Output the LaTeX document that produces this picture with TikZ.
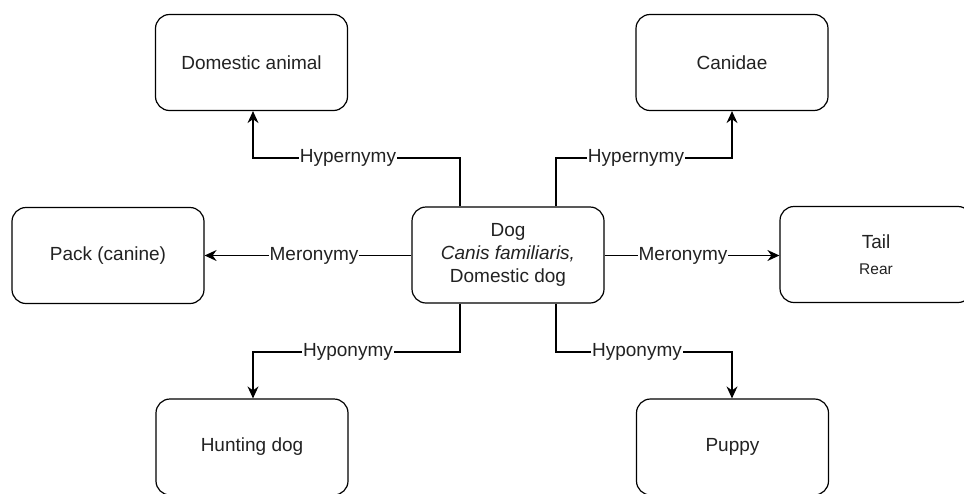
\documentclass[tikz,border=0pt]{standalone}
\usepackage{fontspec}
\setmainfont{Liberation Sans}
\usetikzlibrary{arrows.meta}
\definecolor{txt}{HTML}{222222}
\begin{document}
\begin{tikzpicture}[x=1pt,y=-1pt,
  box/.style={draw=black, line width=1.2pt, rounded corners=14pt, fill=white,
    minimum width=192pt, minimum height=96pt, inner sep=0pt, text=txt,
    font=\fontsize{19}{23}\selectfont, align=center},
  conn/.style={draw=black, line width=1.3pt, -{Stealth[length=12pt,width=11pt,inset=4pt]}},
  lbl/.style={fill=white, inner sep=1pt, text=txt, font=\fontsize{19}{23}\selectfont}]
\useasboundingbox (0,0) rectangle (964,493);
\clip (0,0) rectangle (964,493);
\fill[white] (0,0) rectangle (964,493);
\node[box] (dom) at (251.5,62.5) {Domestic animal};
\node[box] (can) at (732,62.5) {Canidae};
\node[box] (dog) at (508,255) {Dog\\\itshape Canis familiaris,\\Domestic dog};
\node[box] (pack) at (108,255.5) {Pack (canine)};
\node[box] (tail) at (876,254.5) {Tail\\[3pt]{\fontsize{15.5}{18}\selectfont Rear}};
\node[box] (hunt) at (252,447) {Hunting dog};
\node[box] (pup) at (732.5,447) {Puppy};
% connectors
\coordinate (a1) at (460,158); \coordinate (a2) at (253,158);
\draw[conn] (dog.north -| a1) -- (a1) -- (a2) -- (dom.south -| a2);
\coordinate (b1) at (556,158); \coordinate (b2) at (732,158);
\draw[conn] (dog.north -| b1) -- (b1) -- (b2) -- (can.south -| b2);
\coordinate (m) at (0,255.5);
\draw[conn] (dog.west |- m) -- (pack.east |- m);
\draw[conn] (dog.east |- m) -- (tail.west |- m);
\coordinate (c1) at (460,352); \coordinate (c2) at (253,352);
\draw[conn] (dog.south -| c1) -- (c1) -- (c2) -- (hunt.north -| c2);
\coordinate (d1) at (556,352); \coordinate (d2) at (732,352);
\draw[conn] (dog.south -| d1) -- (d1) -- (d2) -- (pup.north -| d2);
% labels
\node[lbl] (l1) at (348,158) {Hypernymy};
\node[lbl] (l2) at (636,158) {Hypernymy};
\node[lbl] (l3) at (314,255.5) {Meronymy};
\node[lbl] (l4) at (683,255.5) {Meronymy};
\node[lbl] (l5) at (348,352) {Hyponymy};
\node[lbl] (l6) at (637,352) {Hyponymy};
\end{tikzpicture}
\end{document}
